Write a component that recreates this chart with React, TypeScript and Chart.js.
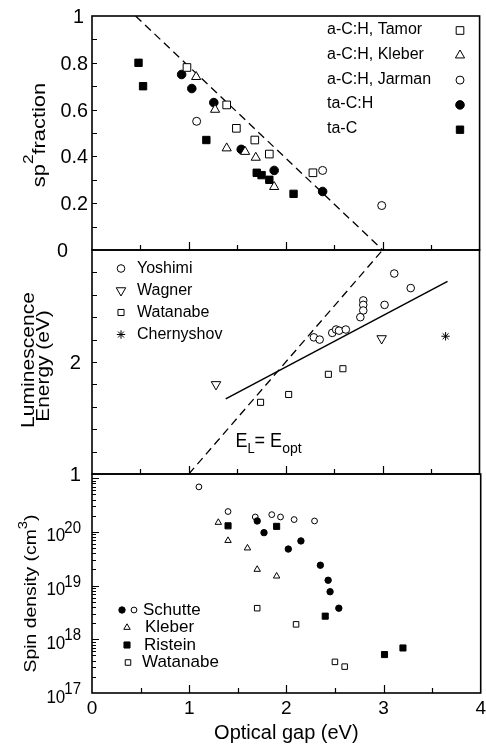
import React, { useEffect, useRef } from 'react';
import { Chart, registerables } from 'chart.js';
import * as helpers from 'chart.js/helpers';
Chart.register(...registerables);

const FONT = '"Liberation Sans", Arial, Helvetica, sans-serif';
Chart.defaults.font.family = FONT;
Chart.defaults.color = '#000';

// ---------- Panel (a): sp2 fraction vs optical gap ----------
const tamorGap = [0.98, 1.39, 1.49, 1.68, 1.83, 2.28];
const tamorSp2 = [0.78, 0.62, 0.52, 0.47, 0.41, 0.33];
const kleberGap = [1.075, 1.27, 1.39, 1.58, 1.69, 1.88];
const kleberSp2 = [0.74, 0.6, 0.435, 0.42, 0.395, 0.27];
const jarmanGap = [1.08, 2.38, 2.99];
const jarmanSp2 = [0.55, 0.34, 0.19];
const taCHGap = [0.925, 1.03, 1.257, 1.54, 1.88, 2.38];
const taCHSp2 = [0.75, 0.69, 0.63, 0.43, 0.34, 0.25];
const taCGap = [0.48, 0.527, 1.18, 1.7, 1.75, 1.83, 2.08];
const taCSp2 = [0.8, 0.7, 0.47, 0.33, 0.32, 0.3, 0.24];
const sp2GuideGap = [0.45, 3.0];
const sp2GuideVal = [1.0, 0.0];
const sp2Ticks = [0, 0.2, 0.4, 0.6, 0.8, 1];

// ---------- Panel (b): luminescence energy ----------
const yoshimiGap = [3.12, 3.29, 2.8, 2.8, 2.8, 2.77, 3.02, 2.48, 2.52, 2.55, 2.62, 2.29, 2.35];
const yoshimiEL = [2.79, 2.66, 2.55, 2.51, 2.46, 2.4, 2.51, 2.26, 2.29, 2.28, 2.29, 2.22, 2.2];
const wagnerGap = [1.28, 2.99];
const wagnerEL = [1.8, 2.21];
const watanabeLGap = [1.74, 2.03, 2.44, 2.59];
const watanabeEL = [1.64, 1.71, 1.89, 1.94];
const chernyshovGap = [3.65];
const chernyshovEL = [2.23];
const fitGap = [1.38, 3.67];
const fitEL = [1.67, 2.72];
const identityGap = [1.0, 3.0];
const identityEL = [1.0, 3.0];
const lumTicks = [1, 2];

// ---------- Panel (c): spin density ----------
const schutteOpenGap = [1.1, 1.4, 1.68, 1.85, 1.94, 2.08, 2.29];
const schutteOpenN = [6.9e20, 2.4e20, 1.9e20, 2.1e20, 1.9e20, 1.7e20, 1.6e20];
const schutteFilledGap = [1.7, 1.77, 2.02, 2.15, 2.35, 2.43, 2.45, 2.54];
const schutteFilledN = [1.6e20, 9.7e19, 4.8e19, 6.8e19, 2.4e19, 1.26e19, 7.7e18, 3.8e18];
const kleberSGap = [1.3, 1.4, 1.6, 1.7, 1.9];
const kleberSN = [1.5e20, 6.9e19, 5.0e19, 2.0e19, 1.5e19];
const risteinGap = [1.4, 1.9, 2.4, 3.01, 3.2];
const risteinN = [1.3e20, 1.27e20, 2.7e18, 5.2e17, 6.9e17];
const watanabeSGap = [1.7, 2.1, 2.5, 2.6];
const watanabeSN = [3.8e18, 1.9e18, 3.8e17, 3.1e17];
const spinExponents = [17, 18, 19, 20];
const gapTicks = [0, 1, 2, 3, 4];

const pts = (xs: number[], ys: number[]) => xs.map((x, i) => ({ x, y: ys[i] }));

type Seg = { text: string; size: number; dy?: number };

function font(size: number) {
  return `${size}px ${FONT}`;
}

function drawSegments(
  ctx: CanvasRenderingContext2D,
  segs: Seg[],
  x: number,
  y: number,
  align: 'left' | 'center' | 'right',
  sx = 1,
  rotate = false,
  sy = 1
) {
  ctx.save();
  ctx.translate(x, y);
  if (rotate) ctx.rotate(-Math.PI / 2);
  ctx.scale(sx, sy);
  let w = 0;
  for (const s of segs) {
    ctx.font = font(s.size);
    w += ctx.measureText(s.text).width;
  }
  let cx = align === 'left' ? 0 : align === 'center' ? -w / 2 : -w;
  ctx.fillStyle = '#000';
  ctx.textAlign = 'left';
  ctx.textBaseline = 'alphabetic';
  for (const s of segs) {
    ctx.font = font(s.size);
    ctx.fillText(s.text, cx, s.dy ?? 0);
    cx += ctx.measureText(s.text).width;
  }
  ctx.restore();
}

function drawSymbol(ctx: CanvasRenderingContext2D, ds: any, x: number, y: number) {
  ctx.save();
  ctx.fillStyle = ds.backgroundColor;
  ctx.strokeStyle = ds.borderColor;
  ctx.lineWidth = ds.borderWidth;
  helpers.drawPoint(
    ctx,
    { pointStyle: ds.pointStyle, radius: ds.pointRadius, rotation: ds.pointRotation || 0, borderWidth: ds.borderWidth },
    x,
    y
  );
  ctx.restore();
}

// frame + inward tick marks
function framePlugin(yTickValues: (ys: any) => number[], yTickLen: (v: number) => number) {
  return {
    id: 'frame',
    afterDatasetsDraw(chart: any) {
      const { ctx, chartArea: a, scales } = chart;
      const xs = scales.x;
      const ys = scales.y;
      ctx.save();
      ctx.strokeStyle = '#000';
      ctx.lineWidth = 1.2;
      ctx.beginPath();
      for (let v = xs.min + 0.5; v < xs.max - 0.01; v += 0.5) {
        const px = Math.round(xs.getPixelForValue(v)) + 0.5;
        const len = Math.abs(v - Math.round(v)) < 1e-6 ? 8 : 5;
        ctx.moveTo(px, a.bottom);
        ctx.lineTo(px, a.bottom - len);
      }
      for (const v of yTickValues(ys)) {
        const py = Math.round(ys.getPixelForValue(v)) + 0.5;
        ctx.moveTo(a.left, py);
        ctx.lineTo(a.left + yTickLen(v), py);
      }
      ctx.stroke();
      ctx.lineWidth = 1.6;
      ctx.strokeRect(a.left, a.top, a.right - a.left, a.bottom - a.top);
      ctx.restore();
    },
  };
}

const openStyle = { backgroundColor: '#fff', borderColor: '#000', borderWidth: 1 };
const filledStyle = { backgroundColor: '#000', borderColor: '#000', borderWidth: 1 };

function baseOptions(padding: any, yScale: any, xScale: any) {
  return {
    animation: false,
    responsive: false,
    devicePixelRatio: 1,
    events: [],
    layout: { padding },
    plugins: { legend: { display: false }, tooltip: { enabled: false } },
    scales: { x: xScale, y: yScale },
  };
}

const hiddenY = (extra: any) => ({
  ...extra,
  ticks: { display: false },
  grid: { display: false, drawTicks: false },
  border: { display: false },
  afterFit(s: any) {
    s.width = 92;
  },
});

function cfgTop(): any {
  const datasets: any[] = [
    { label: 'a-C:H, Tamor', data: pts(tamorGap, tamorSp2), pointStyle: 'rect', pointRadius: 5.4, ...openStyle },
    { label: 'a-C:H, Kleber', data: pts(kleberGap, kleberSp2), pointStyle: 'triangle', pointRadius: 5.3, ...openStyle },
    { label: 'a-C:H, Jarman', data: pts(jarmanGap, jarmanSp2), pointStyle: 'circle', pointRadius: 4, ...openStyle },
    { label: 'ta-C:H', data: pts(taCHGap, taCHSp2), pointStyle: 'circle', pointRadius: 4.3, ...filledStyle },
    { label: 'ta-C', data: pts(taCGap, taCSp2), pointStyle: 'rect', pointRadius: 5.2, ...filledStyle },
    {
      label: 'guide',
      data: pts(sp2GuideGap, sp2GuideVal),
      showLine: true,
      pointRadius: 0,
      borderColor: '#000',
      borderWidth: 1.3,
      borderDash: [8, 5],
    },
  ];
  return {
    type: 'scatter',
    data: { datasets },
    options: baseOptions(
      { top: 16, bottom: 12, left: 0, right: 4 },
      hiddenY({ type: 'linear', min: 0, max: 1 }),
      { type: 'linear', min: 0, max: 4, display: false }
    ),
    plugins: [
      framePlugin(
        (ys) => {
          const out: number[] = [];
          for (let v = 0.1; v < ys.max - 0.01; v += 0.1) out.push(v);
          return out;
        },
        () => 5
      ),
      {
        id: 'decor',
        afterDraw(chart: any) {
          const { ctx, chartArea: a, scales } = chart;
          const ys = scales.y;
          // y tick labels
          for (const v of sp2Ticks) {
            const py = ys.getPixelForValue(v) + 7;
            const text = String(v);
            if (v < 1 && v > 0) drawSegments(ctx, [{ text, size: 18 }], 88, py, 'right', 1.1, false, 1.08);
            else if (v === 0) drawSegments(ctx, [{ text, size: 18 }], 57, py, 'left', 1.1, false, 1.08);
            else drawSegments(ctx, [{ text, size: 18 }], 84, py, 'right', 1.1, false, 1.08);
          }
          // axis title
          drawSegments(
            ctx,
            [
              { text: 'sp', size: 19 },
              { text: '2', size: 15, dy: -12 },
              { text: 'fraction', size: 19 },
            ],
            45,
            (a.top + a.bottom) / 2 + 2,
            'center',
            1.15,
            true
          );
          // legend
          const ds = chart.data.datasets;
          for (let i = 0; i < 5; i++) {
            const y = a.top + 13.5 + i * 24.8;
            ctx.save();
            ctx.font = font(16);
            ctx.fillStyle = '#000';
            ctx.textBaseline = 'middle';
            ctx.textAlign = 'left';
            ctx.fillText(ds[i].label, 327, y);
            ctx.restore();
            drawSymbol(ctx, ds[i], 460, y + 1);
          }
        },
      },
    ],
  };
}

function cfgMid(): any {
  const datasets: any[] = [
    { label: 'Yoshimi', data: pts(yoshimiGap, yoshimiEL), pointStyle: 'circle', pointRadius: 3.8, ...openStyle },
    { label: 'Wagner', data: pts(wagnerGap, wagnerEL), pointStyle: 'triangle', pointRotation: 180, pointRadius: 5.5, ...openStyle },
    { label: 'Watanabe', data: pts(watanabeLGap, watanabeEL), pointStyle: 'rect', pointRadius: 4.3, ...openStyle },
    { label: 'Chernyshov', data: pts(chernyshovGap, chernyshovEL), pointStyle: 'star', pointRadius: 4.2, ...openStyle },
    { label: 'fit', data: pts(fitGap, fitEL), showLine: true, pointRadius: 0, borderColor: '#000', borderWidth: 1.5 },
    {
      label: 'E_L = E_opt',
      data: pts(identityGap, identityEL),
      showLine: true,
      pointRadius: 0,
      borderColor: '#000',
      borderWidth: 1.3,
      borderDash: [8, 5],
    },
  ];
  return {
    type: 'scatter',
    data: { datasets },
    options: baseOptions(
      { top: 10, bottom: 11, left: 0, right: 4 },
      hiddenY({ type: 'linear', min: 1, max: 3 }),
      { type: 'linear', min: 0, max: 4, display: false }
    ),
    plugins: [
      framePlugin(
        (ys) => {
          const out: number[] = [];
          for (let v = ys.min + 0.2; v < ys.max - 0.01; v += 0.2) out.push(v);
          return out;
        },
        () => 5
      ),
      {
        id: 'decor',
        afterDraw(chart: any) {
          const { ctx, chartArea: a, scales } = chart;
          const ys = scales.y;
          const xs = scales.x;
          for (const v of lumTicks) {
            drawSegments(ctx, [{ text: String(v), size: 18 }], 81, ys.getPixelForValue(v) + 7, 'right', 1.12, false, 1.08);
          }
          const cy = (a.top + a.bottom) / 2;
          drawSegments(ctx, [{ text: 'Luminescence', size: 18 }], 33.5, cy - 2, 'center', 1.17, true);
          drawSegments(ctx, [{ text: 'Energy (eV)', size: 18 }], 48.5, cy + 4, 'center', 1.16, true);
          // E_L = E_opt annotation, anchored in data coordinates
          drawSegments(
            ctx,
            [
              { text: 'E', size: 18 },
              { text: 'L', size: 13, dy: 5 },
              { text: '= E', size: 18 },
              { text: 'opt', size: 14, dy: 5 },
            ],
            xs.getPixelForValue(1.48),
            ys.getPixelForValue(1.24),
            'left',
            1.0,
            false,
            1.1
          );
          // legend
          const ds = chart.data.datasets;
          for (let i = 0; i < 4; i++) {
            const y = a.top + 18.5 + i * 22;
            ctx.save();
            ctx.font = font(16);
            ctx.fillStyle = '#000';
            ctx.textBaseline = 'middle';
            ctx.textAlign = 'left';
            ctx.fillText(ds[i].label, 137, y);
            ctx.restore();
            drawSymbol(ctx, ds[i], 121, y);
          }
        },
      },
    ],
  };
}

function cfgBottom(): any {
  const datasets: any[] = [
    { label: 'Schutte', data: pts(schutteFilledGap, schutteFilledN), pointStyle: 'circle', pointRadius: 3.2, ...filledStyle },
    { label: 'Schutte (open)', data: pts(schutteOpenGap, schutteOpenN), pointStyle: 'circle', pointRadius: 2.9, ...openStyle },
    { label: 'Kleber', data: pts(kleberSGap, kleberSN), pointStyle: 'triangle', pointRadius: 3.7, ...openStyle },
    { label: 'Ristein', data: pts(risteinGap, risteinN), pointStyle: 'rect', pointRadius: 4.3, ...filledStyle },
    { label: 'Watanabe', data: pts(watanabeSGap, watanabeSN), pointStyle: 'rect', pointRadius: 3.9, ...openStyle },
  ];
  return {
    type: 'scatter',
    data: { datasets },
    options: baseOptions(
      { top: 10, bottom: 0, left: 0, right: 4 },
      hiddenY({ type: 'logarithmic', min: 1e17, max: 1.2e21 }),
      {
        type: 'linear',
        min: 0,
        max: 4,
        afterBuildTicks(s: any) {
          s.ticks = gapTicks.map((v) => ({ value: v }));
        },
        ticks: { font: { size: 19 }, padding: 4, color: '#000' },
        grid: { display: false, drawTicks: false },
        border: { display: false },
        title: {
          display: true,
          text: 'Optical gap (eV)',
          color: '#000',
          font: { size: 20, lineHeight: 1 },
          padding: { top: 0, bottom: 1 },
        },
        afterFit(s: any) {
          s.height = 51;
          s.paddingLeft = 0;
          s.paddingRight = 0;
        },
      }
    ),
    plugins: [
      framePlugin(
        (ys) => {
          const out: number[] = [];
          for (let e = 17; e <= 21; e++) {
            for (let m = 1; m <= 9; m++) {
              const v = m * Math.pow(10, e);
              if (v > ys.min * 1.001 && v < ys.max * 0.999) out.push(v);
            }
          }
          return out;
        },
        (v) => {
          const m = v / Math.pow(10, Math.floor(Math.log10(v) + 1e-9));
          return Math.abs(m - 1) < 1e-6 ? 7 : 4;
        }
      ),
      {
        id: 'decor',
        afterDraw(chart: any) {
          const { ctx, chartArea: a, scales } = chart;
          const ys = scales.y;
          for (const e of spinExponents) {
            const py = ys.getPixelForValue(Math.pow(10, e));
            ctx.save();
            ctx.font = font(15);
            const we = ctx.measureText(String(e)).width;
            ctx.font = font(17);
            const wb = ctx.measureText('10').width;
            ctx.restore();
            const xe = 81 - we;
            const xb = xe - wb + 1;
            drawSegments(ctx, [{ text: '10', size: 17 }], xb, py + 9.5, 'left', 1, false, 1.08);
            drawSegments(ctx, [{ text: String(e), size: 15 }], xe, py + 1, 'left', 1, false, 1.08);
          }
          drawSegments(
            ctx,
            [
              { text: 'Spin density (cm', size: 17 },
              { text: '3', size: 13, dy: -9 },
              { text: ')', size: 17 },
            ],
            36,
            (a.top + a.bottom) / 2 + 10,
            'center',
            1.14,
            true
          );
          // legend
          const ds = chart.data.datasets;
          const rows = [
            { text: ds[0].label, syms: [{ d: ds[0], x: 122 }, { d: ds[1], x: 134 }], tx: 143 },
            { text: ds[2].label, syms: [{ d: ds[2], x: 127 }], tx: 145 },
            { text: ds[3].label, syms: [{ d: ds[3], x: 127 }], tx: 144 },
            { text: ds[4].label, syms: [{ d: ds[4], x: 128 }], tx: 142 },
          ];
          rows.forEach((r, i) => {
            const y = a.top + 136 + i * 17.5;
            ctx.save();
            ctx.font = font(17);
            ctx.fillStyle = '#000';
            ctx.textBaseline = 'middle';
            ctx.textAlign = 'left';
            ctx.fillText(r.text, r.tx, y);
            ctx.restore();
            r.syms.forEach((s) => drawSymbol(ctx, s.d, s.x, y));
          });
        },
      },
    ],
  };
}

export default function App() {
  const r1 = useRef<HTMLCanvasElement>(null);
  const r2 = useRef<HTMLCanvasElement>(null);
  const r3 = useRef<HTMLCanvasElement>(null);
  useEffect(() => {
    const charts = [
      new Chart(r1.current as HTMLCanvasElement, cfgTop()),
      new Chart(r2.current as HTMLCanvasElement, cfgMid()),
      new Chart(r3.current as HTMLCanvasElement, cfgBottom()),
    ];
    return () => charts.forEach((c) => c.destroy());
  }, []);
  const cs = (top: number, height: number): React.CSSProperties => ({
    position: 'absolute',
    left: 0,
    top,
    width: 486,
    height,
  });
  return (
    <div style={{ position: 'absolute', left: 0, top: 0, width: 486, height: 744, background: '#fff', overflow: 'hidden' }}>
      <canvas ref={r1} width={486} height={262} style={cs(0, 262)} />
      <canvas ref={r2} width={486} height={245} style={cs(240, 245)} />
      <canvas ref={r3} width={486} height={280} style={cs(464, 280)} />
    </div>
  );
}
